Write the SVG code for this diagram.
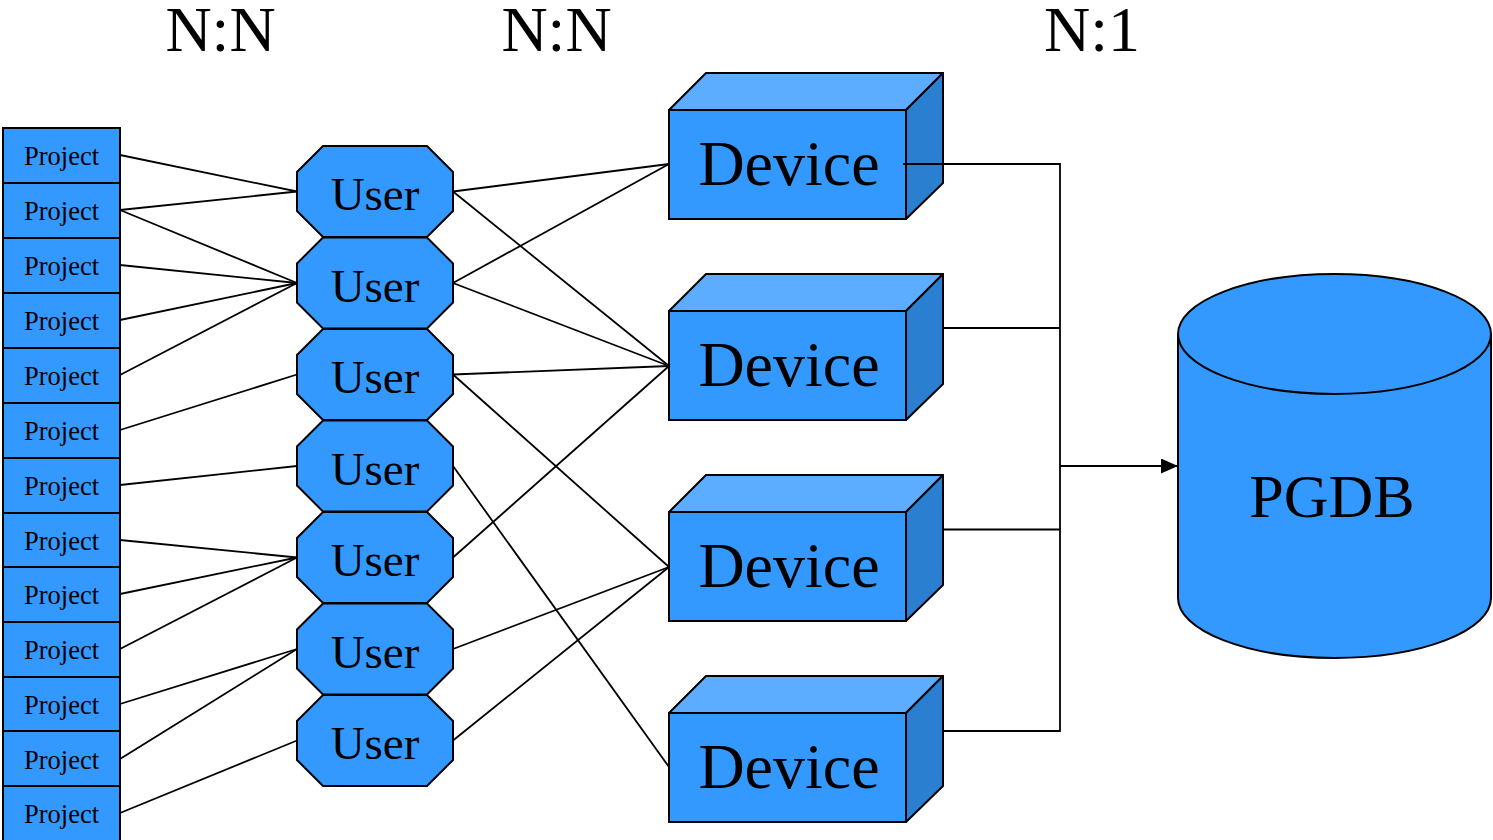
<svg xmlns="http://www.w3.org/2000/svg" width="1493" height="840" viewBox="0 0 1493 840">
<style>
.hdr{font-family:"Liberation Serif",serif;font-size:64px;fill:#000;text-anchor:middle}
.prj rect{fill:#3399FF;stroke:#000;stroke-width:2}
.prj text{font-family:"Liberation Serif",serif;font-size:26.5px;fill:#000;text-anchor:middle}
.usr polygon{fill:#3399FF;stroke:#000;stroke-width:2}
.usr text{font-family:"Liberation Serif",serif;font-size:47px;fill:#000;text-anchor:middle}
.dev .front{fill:#3399FF;stroke:#000;stroke-width:2}
.dev .top{fill:#5CADFF;stroke:#000;stroke-width:2;stroke-linejoin:round}
.dev .side{fill:#2B7FD0;stroke:#000;stroke-width:2;stroke-linejoin:round}
.dev text{font-family:"Liberation Serif",serif;font-size:64px;fill:#000;text-anchor:middle}
.db path,.db ellipse{fill:#3399FF;stroke:#000;stroke-width:2}
.db text{font-family:"Liberation Serif",serif;font-size:62px;fill:#000;text-anchor:middle}
.conn line,.conn polyline{stroke:#000;stroke-width:1.8;fill:none}
</style>
<defs>
<marker id="arr" viewBox="0 0 17 15" refX="17" refY="7.5" markerWidth="17" markerHeight="15" markerUnits="userSpaceOnUse" orient="auto"><path d="M0,0 L17,7.5 L0,15 z" fill="#000"/></marker>
</defs>
<rect width="1493" height="840" fill="#fff"/>
<g id="headers">
<text class="hdr" x="220.5" y="51">N:N</text>
<text class="hdr" x="556.5" y="51">N:N</text>
<text class="hdr" x="1092" y="51">N:1</text>
</g>
<g id="connectors" class="conn">
<line x1="120" y1="155" x2="297" y2="191.5"/>
<line x1="120" y1="210" x2="297" y2="191.5"/>
<line x1="120" y1="210" x2="297" y2="283"/>
<line x1="120" y1="265" x2="297" y2="283"/>
<line x1="120" y1="320" x2="297" y2="283"/>
<line x1="120" y1="375" x2="297" y2="283"/>
<line x1="120" y1="430" x2="297" y2="374.5"/>
<line x1="120" y1="485" x2="297" y2="466"/>
<line x1="120" y1="540" x2="297" y2="557.5"/>
<line x1="120" y1="594" x2="297" y2="557.5"/>
<line x1="120" y1="649" x2="297" y2="557.5"/>
<line x1="120" y1="704" x2="297" y2="649"/>
<line x1="120" y1="759" x2="297" y2="649"/>
<line x1="120" y1="813" x2="297" y2="740.5"/>
<line x1="453" y1="191.5" x2="669" y2="164"/>
<line x1="453" y1="191.5" x2="669" y2="366"/>
<line x1="453" y1="283" x2="669" y2="164"/>
<line x1="453" y1="283" x2="669" y2="366"/>
<line x1="453" y1="374.5" x2="669" y2="366"/>
<line x1="453" y1="374.5" x2="669" y2="567"/>
<line x1="453" y1="466" x2="669" y2="767"/>
<line x1="453" y1="557.5" x2="669" y2="366"/>
<line x1="453" y1="649" x2="669" y2="567"/>
<line x1="453" y1="740.5" x2="669" y2="567"/>
</g>
<g id="projects">
<g id="project1" class="prj"><rect x="3" y="128" width="117" height="55"/><text x="61.5" y="165">Project</text></g>
<g id="project2" class="prj"><rect x="3" y="183" width="117" height="55"/><text x="61.5" y="220">Project</text></g>
<g id="project3" class="prj"><rect x="3" y="238" width="117" height="55"/><text x="61.5" y="275">Project</text></g>
<g id="project4" class="prj"><rect x="3" y="293" width="117" height="55"/><text x="61.5" y="330">Project</text></g>
<g id="project5" class="prj"><rect x="3" y="348" width="117" height="55"/><text x="61.5" y="385">Project</text></g>
<g id="project6" class="prj"><rect x="3" y="403" width="117" height="55"/><text x="61.5" y="440">Project</text></g>
<g id="project7" class="prj"><rect x="3" y="458" width="117" height="55"/><text x="61.5" y="495">Project</text></g>
<g id="project8" class="prj"><rect x="3" y="513" width="117" height="54"/><text x="61.5" y="550">Project</text></g>
<g id="project9" class="prj"><rect x="3" y="567" width="117" height="55"/><text x="61.5" y="604">Project</text></g>
<g id="project10" class="prj"><rect x="3" y="622" width="117" height="55"/><text x="61.5" y="659">Project</text></g>
<g id="project11" class="prj"><rect x="3" y="677" width="117" height="54"/><text x="61.5" y="714">Project</text></g>
<g id="project12" class="prj"><rect x="3" y="731" width="117" height="55"/><text x="61.5" y="769">Project</text></g>
<g id="project13" class="prj"><rect x="3" y="786" width="117" height="60"/><text x="61.5" y="823">Project</text></g>
</g>
<g id="users">
<g id="user1" class="usr"><polygon points="323,146 427,146 453,172 453,211 427,237 323,237 297,211 297,172"/><text x="375" y="210">User</text></g>
<g id="user2" class="usr"><polygon points="323,237.5 427,237.5 453,263.5 453,302.5 427,328.5 323,328.5 297,302.5 297,263.5"/><text x="375" y="301.5">User</text></g>
<g id="user3" class="usr"><polygon points="323,329 427,329 453,355 453,394 427,420 323,420 297,394 297,355"/><text x="375" y="393">User</text></g>
<g id="user4" class="usr"><polygon points="323,420.5 427,420.5 453,446.5 453,485.5 427,511.5 323,511.5 297,485.5 297,446.5"/><text x="375" y="484.5">User</text></g>
<g id="user5" class="usr"><polygon points="323,512 427,512 453,538 453,577 427,603 323,603 297,577 297,538"/><text x="375" y="576">User</text></g>
<g id="user6" class="usr"><polygon points="323,603.5 427,603.5 453,629.5 453,668.5 427,694.5 323,694.5 297,668.5 297,629.5"/><text x="375" y="667.5">User</text></g>
<g id="user7" class="usr"><polygon points="323,695 427,695 453,721 453,760 427,786 323,786 297,760 297,721"/><text x="375" y="759">User</text></g>
</g>
<g id="devices">
<g id="device1" class="dev"><polygon class="top" points="669,110 706,73 943,73 906,110"/><polygon class="side" points="906,110 943,73 943,183 906,219"/><rect class="front" x="669" y="110" width="237" height="109"/><text x="789" y="185">Device</text></g>
<g id="device2" class="dev"><polygon class="top" points="669,311 706,274 943,274 906,311"/><polygon class="side" points="906,311 943,274 943,384 906,420"/><rect class="front" x="669" y="311" width="237" height="109"/><text x="789" y="386">Device</text></g>
<g id="device3" class="dev"><polygon class="top" points="669,512 706,475 943,475 906,512"/><polygon class="side" points="906,512 943,475 943,585 906,621"/><rect class="front" x="669" y="512" width="237" height="109"/><text x="789" y="587">Device</text></g>
<g id="device4" class="dev"><polygon class="top" points="669,713 706,676 943,676 906,713"/><polygon class="side" points="906,713 943,676 943,786 906,822"/><rect class="front" x="669" y="713" width="237" height="109"/><text x="789" y="788">Device</text></g>
</g>
<g id="bus" class="conn">
<polyline points="903,164 1060,164 1060,731 943,731"/>
<line x1="943" y1="328" x2="1060" y2="328"/>
<line x1="943" y1="529.5" x2="1060" y2="529.5"/>
<line x1="1060" y1="466" x2="1178" y2="466" marker-end="url(#arr)"/>
</g>
<g id="pgdb" class="db">
<path d="M1178,334 L1178,598 A156.5,60 0 0 0 1491,598 L1491,334"/>
<ellipse cx="1334.5" cy="334" rx="156.5" ry="60"/>
<text x="1332" y="517">PGDB</text>
</g>
</svg>
